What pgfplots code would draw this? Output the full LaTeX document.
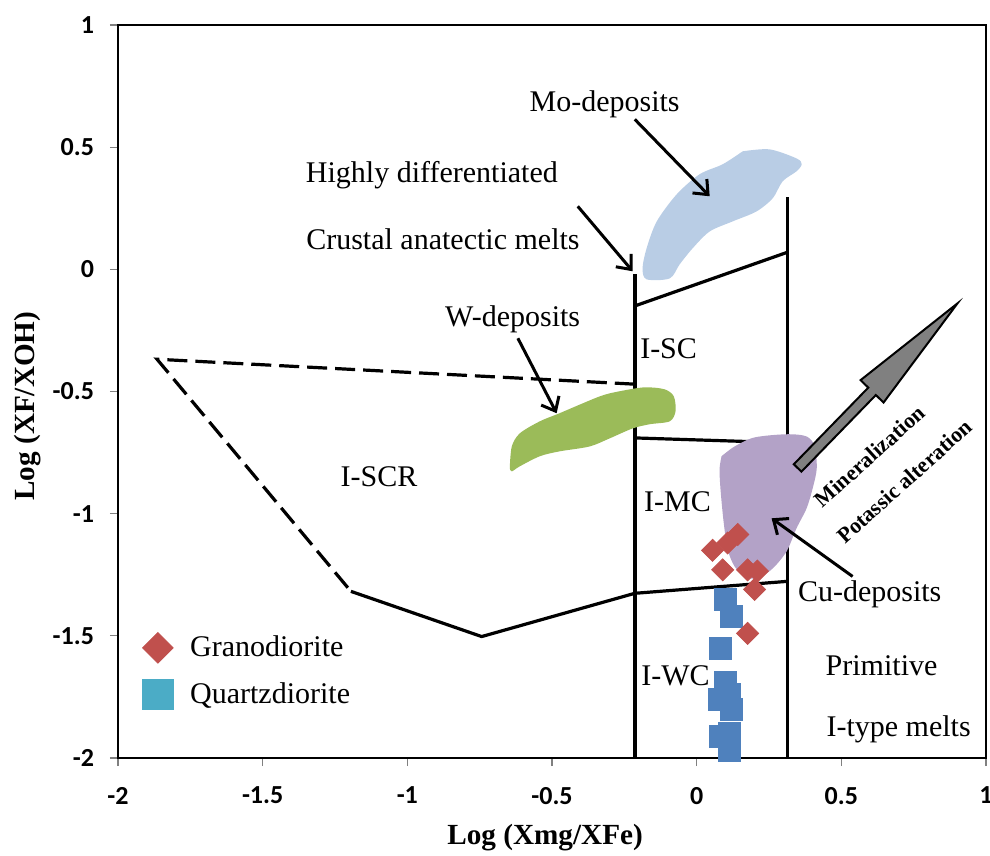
\documentclass[border=0pt]{standalone}
\usepackage{pgfplots}
\pgfplotsset{compat=1.18}
\usetikzlibrary{arrows.meta}
\usepackage{fontspec}
\setmainfont{Liberation Serif}
\newfontfamily\carlito{Carlito}
\definecolor{grano}{HTML}{C0504D}
\definecolor{qdplot}{HTML}{4F81BD}
\definecolor{qdleg}{HTML}{4BACC6}
\definecolor{mocol}{HTML}{B9CDE5}
\definecolor{wcol}{HTML}{9BBB59}
\definecolor{cucol}{HTML}{B3A2C7}
\definecolor{arrgray}{HTML}{808080}
\newcommand{\lbl}{\fontsize{15}{18}\selectfont}
\begin{document}
\begin{tikzpicture}
\useasboundingbox (0,0) rectangle (495pt,428pt);
\begin{axis}[
  at={(59pt,49pt)}, anchor=south west,
  scale only axis, width=434pt, height=366.5pt,
  xmin=-2, xmax=1, ymin=-2, ymax=1,
  xtick={-2,-1.5,-1,-0.5,0,0.5,1},
  xticklabels={-2,-1.5,-1,-0.5,0,0.5,1},
  ytick={-2,-1.5,-1,-0.5,0,0.5,1},
  yticklabels={-2,-1.5,-1,-0.5,0,0.5,1},
  tick align=outside, xtick pos=bottom, ytick pos=left,
  major tick length=4pt,
  tick style={gray, line width=0.6pt},
  axis line style={line width=1.3pt},
  ticklabel style={font=\carlito\bfseries\fontsize{13}{15}\selectfont},
  xticklabel style={yshift=-7pt},
  yticklabel style={xshift=-4.5pt},
  xlabel={Log (Xmg/XFe)}, ylabel={Log (XF/XOH)},
  label style={font=\bfseries\fontsize{14.6}{17}\selectfont},
  xlabel style={at={(axis description cs:0.492,-0.109)}, anchor=center},
  ylabel style={at={(axis description cs:-0.104,0.48)}, anchor=center},
  legend style={draw=none, fill=none, at={(axis description cs:0.021,0.178)}, anchor=north west,
    font=\lbl, row sep=7.5pt},
  legend cell align=left,
]
\addlegendimage{only marks, mark=square*, mark size=5.4pt, mark options={rotate=45}, color=grano}
\addlegendentry{\hspace{6.5pt}Granodiorite}
\addlegendimage{only marks, mark=square*, mark size=7.6pt, color=qdleg}
\addlegendentry{\hspace{6.5pt}Quartzdiorite}

% boundary lines
\addplot[black, line width=1.8pt, forget plot] coordinates {(-0.214,-0.02) (-0.214,-2)};
\addplot[black, line width=1.8pt, forget plot] coordinates {(0.314,0.295) (0.314,-2)};
\addplot[black, line width=1.6pt, forget plot] coordinates {(-0.214,-0.15) (0.314,0.07)};
\addplot[black, line width=1.6pt, forget plot] coordinates {(-0.214,-0.69) (0.314,-0.71)};
\addplot[black, line width=1.6pt, dash pattern=on 10pt off 4pt, forget plot] coordinates {(-0.214,-0.47) (-1.865,-0.368) (-1.195,-1.318)};

% fields
\addplot[fill=mocol, draw=none, smooth, forget plot] coordinates {
(0.159,0.483) (0.252,0.491) (0.345,0.454) (0.363,0.430) (0.345,0.401) (0.297,0.360)
(0.263,0.291) (0.207,0.237) (0.124,0.196) (0.045,0.155) (-0.014,0.086) (-0.059,0.020)
(-0.093,-0.037) (-0.173,-0.041) (-0.187,0.004) (-0.173,0.086) (-0.138,0.196) (-0.069,0.307)
(0.010,0.389) (0.090,0.430) (0.159,0.483)} -- cycle;
\addplot[fill=wcol, draw=none, smooth, forget plot] coordinates {
(-0.646,-0.815) (-0.639,-0.725) (-0.611,-0.671) (-0.542,-0.622) (-0.474,-0.589) (-0.335,-0.520)
(-0.266,-0.499) (-0.180,-0.483) (-0.111,-0.491) (-0.079,-0.520) (-0.073,-0.581) (-0.093,-0.622)
(-0.162,-0.634) (-0.221,-0.651) (-0.301,-0.692) (-0.370,-0.725) (-0.474,-0.745) (-0.542,-0.765)
(-0.611,-0.806) (-0.639,-0.827) (-0.646,-0.815)} -- cycle;
\addplot[fill=cucol, draw=none, smooth, forget plot] coordinates {
(0.086,-0.765) (0.131,-0.725) (0.200,-0.688) (0.311,-0.675) (0.380,-0.684) (0.408,-0.725)
(0.415,-0.815) (0.401,-0.896) (0.380,-0.978) (0.345,-1.060) (0.311,-1.154) (0.263,-1.224)
(0.211,-1.265) (0.166,-1.257) (0.131,-1.216) (0.107,-1.146) (0.093,-1.032) (0.083,-0.909)
(0.079,-0.819) (0.086,-0.765)} -- cycle;

% big grey arrow
\addplot[fill=arrgray, draw=black, line width=1pt, forget plot] coordinates {
(0.3358,-0.7978) (0.5931,-0.4842) (0.5665,-0.4535) (0.9016,-0.1392) (0.6459,-0.5452)
(0.6193,-0.5145) (0.3620,-0.8281)} -- cycle;

% samples
\addplot[only marks, mark=square*, mark size=5.5pt, color=qdplot, forget plot] coordinates {
(0.10,-1.35) (0.12,-1.42) (0.083,-1.55) (0.10,-1.69) (0.114,-1.74) (0.08,-1.76)
(0.12,-1.80) (0.083,-1.91) (0.114,-1.90) (0.114,-1.97)};
\addplot[only marks, mark=square*, mark size=3.9pt, mark options={rotate=45}, color=grano, forget plot] coordinates {
(0.055,-1.15) (0.107,-1.12) (0.142,-1.085) (0.09,-1.23) (0.176,-1.23) (0.21,-1.235)
(0.20,-1.31) (0.176,-1.49)};

\addplot[black, line width=1.6pt, forget plot] coordinates {(-1.195,-1.318) (-0.743,-1.503) (-0.214,-1.326) (0.314,-1.277)};

% pointer arrows
\addplot[black, line width=1.5pt, -{Straight Barb[length=6pt,width=10pt]}, forget plot] coordinates {(-0.214,0.614) (0.045,0.299)};
\addplot[black, line width=1.5pt, -{Straight Barb[length=6pt,width=10pt]}, forget plot] coordinates {(-0.411,0.258) (-0.221,-0.008)};
\addplot[black, line width=1.5pt, -{Straight Barb[length=6pt,width=10pt]}, forget plot] coordinates {(-0.618,-0.282) (-0.484,-0.589)};
\addplot[black, line width=1.5pt, -{Straight Barb[length=6pt,width=10pt]}, forget plot] coordinates {(0.539,-1.257) (0.259,-1.019)};

% labels
\node[font=\lbl] at (axis cs:-0.318,0.675) {Mo-deposits};
\node[font=\lbl] at (axis cs:-0.915,0.385) {Highly differentiated};
\node[font=\lbl] at (axis cs:-0.877,0.123) {Crustal anatectic melts};
\node[font=\lbl] at (axis cs:-0.636,-0.205) {W-deposits};
\node[font=\lbl] at (axis cs:-0.097,-0.323) {I-SC};
\node[font=\lbl] at (axis cs:-1.098,-0.847) {I-SCR};
\node[font=\lbl] at (axis cs:-0.066,-0.95) {I-MC};
\node[font=\lbl] at (axis cs:0.598,-1.33) {Cu-deposits};
\node[font=\lbl] at (axis cs:-0.073,-1.662) {I-WC};
\node[font=\lbl] at (axis cs:0.639,-1.621) {Primitive};
\node[font=\lbl] at (axis cs:0.698,-1.883) {I-type melts};
\node[font=\bfseries\fontsize{11}{13}\selectfont, rotate=42, inner sep=0pt] at (axis cs:0.598,-0.765) {Mineralization};
\node[font=\bfseries\fontsize{11}{13}\selectfont, rotate=42, inner sep=0pt] at (axis cs:0.718,-0.868) {Potassic alteration};
\end{axis}
\end{tikzpicture}
\end{document}
